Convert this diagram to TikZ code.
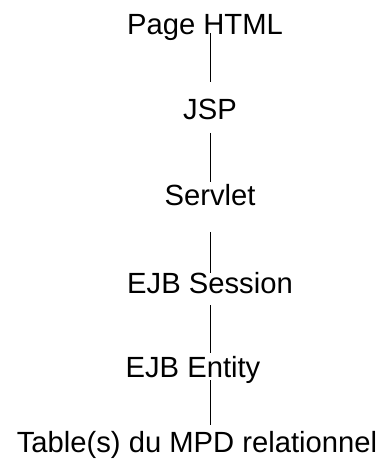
\documentclass[tikz,border=0pt]{standalone}
\usepackage{fontspec}
\setmainfont{Liberation Sans}
\usepackage{tikz}

\begin{document}
\begin{tikzpicture}[x=0.5pt, y=-0.5pt, line width=0.5pt]
\useasboundingbox (0,0) rectangle (381,469);
\tikzset{layer/.style={inner sep=0pt, anchor=base, font=\fontsize{14.6}{17}\selectfont}}
\node [layer] (html) at (205,35) {Page HTML};
\node [layer] (jsp) at (210,120) {JSP};
\node [layer] (servlet) at (210,206) {Servlet};
\node [layer] (session) at (210,293) {EJB Session};
\node [layer] (entity) at (193,377) {EJB Entity};
\node [layer] (mpd) at (197,452) {Table(s) du MPD relationnel};
% line ends
\coordinate (h1) at (210,33);  \coordinate (j0) at (210,82);
\coordinate (j1) at (210,133); \coordinate (s0) at (210,182);
\coordinate (s1) at (210,232); \coordinate (e0) at (210,273);
\coordinate (e1) at (210,305); \coordinate (n0) at (210,353);
\coordinate (n1) at (210,380); \coordinate (m0) at (210,425);
\draw (h1) -- (j0);
\draw (j1) -- (s0);
\draw (s1) -- (e0);
\draw (e1) -- (n0);
\draw (n1) -- (m0);
\end{tikzpicture}
\end{document}
